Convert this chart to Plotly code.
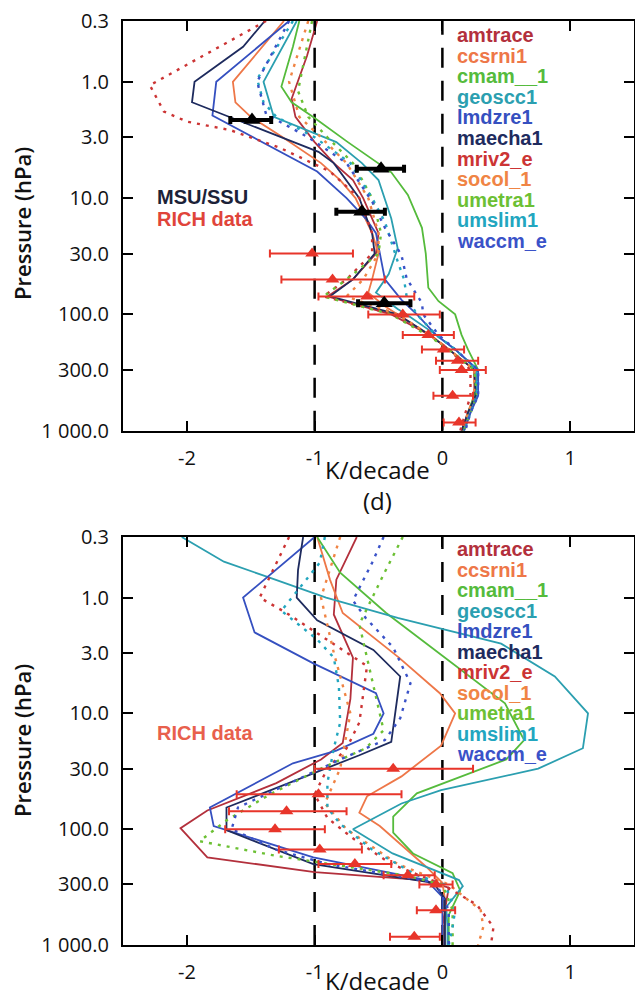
import numpy as np
import plotly.graph_objects as go

# ---------------- model names / styles ----------------
models = ["amtrace", "ccsrni1", "cmam__1", "geoscc1", "lmdzre1", "maecha1",
          "mriv2_e", "socol_1", "umetra1", "umslim1", "waccm_e"]
colors = ["#b3303c", "#ee7748", "#55bb3c", "#2b9fb0", "#3550c0", "#1e2b5e",
          "#cc3434", "#f08444", "#6cc034", "#22a6bf", "#3a52c8"]
dotted = [False, False, False, False, False, False, True, True, True, True, True]

# ---------------- upper panel (trend profiles, K/decade vs hPa) ----------------
a_amtrace_p = [0.3, 0.6, 1.4, 2, 3.3, 5, 7, 10, 20, 30, 50, 70, 100, 150, 200, 300, 500, 700, 1000]
a_amtrace_t = [-0.98, -1.06, -1.18, -1.15, -1.0, -0.85, -0.7, -0.62, -0.5, -0.52, -0.7, -0.9, -0.4, -0.1, 0.05, 0.25, 0.25, 0.2, 0.15]
a_ccsrni1_p = [0.3, 1.0, 1.5, 2, 3, 5, 7, 10, 20, 30, 50, 65, 85, 100, 150, 200, 300, 500, 700, 1000]
a_ccsrni1_t = [-1.24, -1.64, -1.62, -1.5, -1.25, -0.95, -0.8, -0.68, -0.55, -0.5, -0.55, -0.58, -0.45, -0.35, -0.1, 0.05, 0.25, 0.26, 0.2, 0.16]
a_cmam__1_p = [0.3, 0.5, 1.1, 1.5, 2.05, 3.3, 6, 9.4, 18, 30, 59, 77, 100, 150, 200, 300, 500, 700, 1000]
a_cmam__1_t = [-1.12, -1.17, -1.26, -1.18, -1.0, -0.74, -0.40, -0.27, -0.16, -0.13, -0.11, -0.03, 0.10, 0.15, 0.2, 0.28, 0.25, 0.2, 0.16]
a_geoscc1_p = [0.3, 1.0, 2.0, 3.3, 5, 7, 15, 27, 45, 65, 90, 100, 150, 200, 300, 500, 700, 1000]
a_geoscc1_t = [-1.14, -1.40, -1.32, -0.83, -0.63, -0.50, -0.40, -0.35, -0.42, -0.52, -0.35, -0.28, -0.05, 0.1, 0.27, 0.27, 0.22, 0.17]
a_lmdzre1_p = [0.3, 1.0, 1.95, 3, 5.9, 10, 15, 20, 30, 50, 75, 100, 150, 200, 300, 500, 700, 1000]
a_lmdzre1_t = [-1.2, -1.77, -1.80, -1.48, -0.98, -0.75, -0.6, -0.52, -0.49, -0.45, -0.32, -0.2, -0.05, 0.1, 0.28, 0.28, 0.22, 0.17]
a_maecha1_p = [0.3, 0.5, 1.0, 1.5, 4.0, 5, 10, 20, 30, 50, 70, 100, 150, 200, 300, 500, 700, 1000]
a_maecha1_t = [-1.39, -1.56, -1.94, -1.96, -0.97, -0.85, -0.65, -0.55, -0.53, -0.7, -0.88, -0.35, -0.1, 0.05, 0.25, 0.26, 0.2, 0.15]
a_mriv2_e_p = [0.3, 1.07, 1.8, 2.2, 2.6, 3.7, 5.9, 10, 20, 30, 50, 70, 100, 150, 200, 300, 500, 700, 1000]
a_mriv2_e_t = [-1.38, -2.29, -2.18, -2.0, -1.66, -1.27, -0.88, -0.65, -0.55, -0.55, -0.75, -0.93, -0.38, -0.1, 0.05, 0.22, 0.22, 0.18, 0.14]
a_socol_1_p = [0.3, 1.0, 2.0, 3.0, 5, 10, 20, 30, 50, 70, 100, 150, 200, 300, 500, 700, 1000]
a_socol_1_t = [-1.05, -1.2, -1.12, -0.95, -0.75, -0.58, -0.5, -0.5, -0.62, -0.75, -0.35, -0.1, 0.05, 0.25, 0.25, 0.2, 0.15]
a_umetra1_p = [0.3, 1.2, 2.0, 3, 5, 10, 20, 30, 50, 70, 100, 150, 200, 300, 500, 700, 1000]
a_umetra1_t = [-1.02, -1.13, -1.05, -0.9, -0.7, -0.55, -0.48, -0.5, -0.75, -0.93, -0.4, -0.12, 0.05, 0.25, 0.27, 0.22, 0.17]
a_umslim1_p = [0.3, 0.95, 1.5, 2, 3, 5, 10, 16, 35, 50, 70, 100, 150, 200, 300, 500, 700, 1000]
a_umslim1_t = [-1.17, -1.45, -1.40, -1.3, -1.0, -0.72, -0.55, -0.45, -0.35, -0.3, -0.28, -0.2, -0.05, 0.1, 0.27, 0.27, 0.22, 0.17]
a_waccm_e_p = [0.3, 1.0, 1.9, 3, 5, 10.7, 18, 31, 49, 80, 100, 150, 200, 300, 500, 700, 1000]
a_waccm_e_t = [-1.2, -1.45, -1.38, -1.05, -0.75, -0.55, -0.45, -0.32, -0.28, -0.16, -0.15, -0.03, 0.1, 0.28, 0.28, 0.22, 0.18]

# MSU/SSU observations (upper panel)
msu_p = [2.13, 5.6, 13.1, 80]
msu_t = [-1.49, -0.48, -0.63, -0.455]
msu_lo = [-1.66, -0.67, -0.83, -0.66]
msu_hi = [-1.34, -0.30, -0.45, -0.25]

# RICH radiosonde data (upper panel)
richa_p = [30, 50, 70, 100, 150, 200, 250, 300, 500, 850]
richa_t = [-1.02, -0.86, -0.59, -0.31, -0.11, 0.01, 0.12, 0.15, 0.08, 0.13]
richa_lo = [-1.35, -1.26, -0.97, -0.58, -0.31, -0.16, -0.05, -0.02, -0.07, 0.01]
richa_hi = [-0.70, -0.45, -0.22, -0.02, 0.09, 0.17, 0.28, 0.34, 0.24, 0.26]

# ---------------- lower panel (d) ----------------
b_amtrace_p = [0.3, 0.7, 1.4, 3.3, 7.5, 18, 25, 40, 69, 98, 175, 235, 275, 320, 500, 700, 1000]
b_amtrace_t = [-0.67, -0.83, -0.85, -0.70, -0.72, -0.78, -0.95, -1.3, -1.84, -2.05, -1.84, -1.0, -0.15, 0.05, 0.02, 0.0, 0.0]
b_ccsrni1_p = [0.3, 0.7, 1.36, 3.3, 6.7, 10, 19, 35, 52, 72, 94, 212, 290, 400, 700, 1000]
b_ccsrni1_t = [-0.98, -0.88, -0.78, -0.34, -0.02, 0.10, -0.01, -0.32, -0.59, -0.65, -0.49, -0.125, 0.0, 0.02, 0.02, 0.02]
b_cmam__1_p = [0.3, 0.61, 1.36, 3.9, 8.2, 17, 25, 49, 78, 107, 162, 240, 340, 550, 1000]
b_cmam__1_t = [-0.98, -0.80, -0.44, 0.11, 0.49, 0.64, 0.5, -0.2, -0.385, -0.385, -0.23, 0.08, 0.14, 0.05, 0.05]
b_geoscc1_p = [0.3, 0.49, 0.66, 1.0, 1.5, 2.5, 4.8, 10, 20, 30, 46, 60, 100, 162, 275, 310, 470, 700, 1000]
b_geoscc1_t = [-2.04, -1.71, -1.375, -0.91, -0.35, 0.46, 0.88, 1.14, 1.10, 0.75, -0.01, -0.32, -0.70, -0.39, 0.13, 0.16, 0.03, 0.04, 0.04]
b_lmdzre1_p = [0.3, 1.0, 2.0, 3.7, 6.7, 10, 15, 21, 27, 65, 94, 175, 275, 385, 600, 1000]
b_lmdzre1_t = [-1.0, -1.56, -1.47, -1.01, -0.52, -0.46, -0.54, -0.83, -1.17, -1.82, -1.79, -1.01, -0.125, 0.0, 0.0, 0.0]
b_maecha1_p = [0.3, 0.58, 1.0, 1.57, 2.83, 4.8, 17.6, 23, 65, 102, 200, 290, 400, 1000]
b_maecha1_t = [-1.09, -1.13, -1.14, -0.98, -0.54, -0.33, -0.40, -0.65, -1.69, -1.69, -1.01, -0.07, 0.02, 0.02]
b_mriv2_e_p = [0.3, 1.0, 1.36, 2.5, 3.9, 12, 20, 30, 50, 80, 120, 200, 300, 450, 700, 1000]
b_mriv2_e_t = [-1.2, -1.43, -1.22, -0.85, -0.59, -0.65, -0.75, -0.9, -1.0, -0.9, -0.7, -0.4, 0.0, 0.27, 0.40, 0.38]
b_socol_1_p = [0.3, 1.0, 3.0, 10, 30, 60, 100, 200, 300, 500, 700, 1000]
b_socol_1_t = [-0.8, -0.95, -0.85, -0.72, -0.8, -0.92, -0.75, -0.35, 0.05, 0.3, 0.32, 0.28]
b_umetra1_p = [0.3, 0.6, 1.7, 4.2, 14, 20, 30, 50, 84, 127, 170, 250, 300, 500, 1000]
b_umetra1_t = [-0.31, -0.45, -0.65, -0.57, -0.46, -0.6, -0.95, -1.35, -1.69, -1.90, -1.3, -0.3, 0.0, 0.08, 0.08]
b_umslim1_p = [0.3, 0.5, 1.3, 2.3, 3.3, 5.9, 12, 20, 40, 65, 90, 150, 250, 300, 500, 700, 1000]
b_umslim1_t = [-0.92, -0.96, -1.26, -0.98, -0.85, -0.81, -0.8, -0.85, -0.9, -0.9, -0.8, -0.55, -0.2, 0.02, 0.1, 0.08, 0.05]
b_waccm_e_p = [0.3, 0.5, 1.06, 1.5, 2.7, 5.5, 11, 17, 25, 40, 65, 100, 150, 200, 290, 500, 1000]
b_waccm_e_t = [-0.46, -0.55, -0.70, -0.6, -0.385, -0.25, -0.33, -0.45, -0.8, -1.2, -1.6, -1.65, -1.3, -0.9, -0.05, 0.05, 0.05]

richb_p = [30, 50, 70, 100, 150, 200, 250, 300, 500, 850]
richb_t = [-0.385, -0.97, -1.22, -1.31, -0.96, -0.685, -0.27, -0.05, -0.05, -0.22]
richb_lo = [-1.0, -1.61, -1.67, -1.70, -1.28, -0.97, -0.46, -0.18, -0.20, -0.41]
richb_hi = [0.24, -0.32, -0.75, -0.92, -0.63, -0.40, -0.06, 0.08, 0.10, -0.02]

# tick values / labels
x_ticks = [-2, -1, 0, 1]
p_ticks = [0.3, 1, 3, 10, 30, 100, 300, 1000]
p_ticktext = ["0.3", "1.0", "3.0", "10.0", "30.0", "100.0", "300.0", "1 000.0"]

panel_a = {
    "amtrace": (a_amtrace_p, a_amtrace_t), "ccsrni1": (a_ccsrni1_p, a_ccsrni1_t),
    "cmam__1": (a_cmam__1_p, a_cmam__1_t), "geoscc1": (a_geoscc1_p, a_geoscc1_t),
    "lmdzre1": (a_lmdzre1_p, a_lmdzre1_t), "maecha1": (a_maecha1_p, a_maecha1_t),
    "mriv2_e": (a_mriv2_e_p, a_mriv2_e_t), "socol_1": (a_socol_1_p, a_socol_1_t),
    "umetra1": (a_umetra1_p, a_umetra1_t), "umslim1": (a_umslim1_p, a_umslim1_t),
    "waccm_e": (a_waccm_e_p, a_waccm_e_t),
}
panel_b = {
    "amtrace": (b_amtrace_p, b_amtrace_t), "ccsrni1": (b_ccsrni1_p, b_ccsrni1_t),
    "cmam__1": (b_cmam__1_p, b_cmam__1_t), "geoscc1": (b_geoscc1_p, b_geoscc1_t),
    "lmdzre1": (b_lmdzre1_p, b_lmdzre1_t), "maecha1": (b_maecha1_p, b_maecha1_t),
    "mriv2_e": (b_mriv2_e_p, b_mriv2_e_t), "socol_1": (b_socol_1_p, b_socol_1_t),
    "umetra1": (b_umetra1_p, b_umetra1_t), "umslim1": (b_umslim1_p, b_umslim1_t),
    "waccm_e": (b_waccm_e_p, b_waccm_e_t),
}

# ---------------- figure ----------------
W, H = 635, 1000
ML, MR, MT, MB = 123, 1, 21, 55
plot_h = H - MT - MB
top_dom = [(H - MB - 430.7) / plot_h, 1.0]
bot_dom = [0.0, (H - MB - 537) / plot_h]

fig = go.Figure()
RED = "#e8352a"
TEXT_FONT = "Open Sans, Noto Sans, DejaVu Sans, sans-serif"
LEG_FONT = "Liberation Sans, Arial, sans-serif"

for panel, xa, ya in [(panel_a, "x", "y"), (panel_b, "x2", "y2")]:
    for name, col, dot in zip(models, colors, dotted):
        p, t = panel[name]
        fig.add_trace(go.Scatter(
            x=t, y=p, xaxis=xa, yaxis=ya, mode="lines", showlegend=False,
            line=dict(color=col, width=2.4 if dot else 1.8,
                      dash="3px,6px" if dot else "solid"),
            hoverinfo="skip"))


def obs_trace(p, t, lo, hi, color, msize, thick, xa, ya):
    t = np.array(t)
    return go.Scatter(
        x=t, y=p, xaxis=xa, yaxis=ya, mode="markers", showlegend=False,
        marker=dict(symbol="triangle-up", size=msize, color=color),
        error_x=dict(type="data", symmetric=False, array=np.array(hi) - t,
                     arrayminus=t - np.array(lo), color=color,
                     thickness=thick, width=4))


fig.add_trace(obs_trace(richa_p, richa_t, richa_lo, richa_hi, RED, 12, 2, "x", "y"))
fig.add_trace(obs_trace(msu_p, msu_t, msu_lo, msu_hi, "#000000", 15, 4, "x", "y"))
fig.add_trace(obs_trace(richb_p, richb_t, richb_lo, richb_hi, RED, 12, 2, "x2", "y2"))

xax = dict(range=[-2.5, 1.5], tickvals=x_ticks, ticktext=[str(v) for v in x_ticks],
           ticks="inside", ticklen=10, tickwidth=2, tickcolor="black",
           showline=True, linecolor="black", linewidth=2, mirror="ticks",
           showgrid=False, zeroline=False, automargin=False,
           tickfont=dict(family=TEXT_FONT, size=20, color="#111"),
           ticklabelstandoff=8)
yax = dict(type="log", range=[np.log10(1000), np.log10(0.3)],
           tickvals=p_ticks, ticktext=p_ticktext,
           ticks="inside", ticklen=10, tickwidth=2, tickcolor="black",
           showline=True, linecolor="black", linewidth=2, mirror="ticks",
           showgrid=False, zeroline=False, automargin=False,
           tickfont=dict(family=TEXT_FONT, size=20, color="#111"),
           ticklabelstandoff=8)

fig.update_layout(
    width=W, height=H, margin=dict(l=ML, r=MR, t=MT, b=MB, autoexpand=False),
    paper_bgcolor="white", plot_bgcolor="white",
    xaxis=dict(xax, anchor="y"),
    yaxis=dict(yax, domain=top_dom, anchor="x"),
    xaxis2=dict(xax, anchor="y2"),
    yaxis2=dict(yax, domain=bot_dom, anchor="x2"),
)

# dashed reference lines at -1 and 0
shapes = []
for xr, yr in [("x", "y domain"), ("x2", "y2 domain")]:
    for xv in [-1, 0]:
        shapes.append(dict(type="line", xref=xr, yref=yr, x0=xv, x1=xv, y0=0, y1=1,
                           line=dict(color="black", width=2.5, dash="20px,13px"),
                           layer="below"))
fig.update_layout(shapes=shapes)

ann = []
# legend-like model names
for i, (name, col) in enumerate(zip(models, colors)):
    py_top = 35 + 20.6 * i
    py_bot = 549 + 20.5 * i
    ann.append(dict(text=name, xref="x", yref="y domain", x=0.1,
                    y=(430.7 - py_top) / 409.7, xanchor="left", yanchor="middle",
                    showarrow=False, font=dict(family=LEG_FONT, size=20, color=col, weight="bold")))
    ann.append(dict(text=name, xref="x2", yref="y2 domain", x=0.1,
                    y=(945 - py_bot) / 408, xanchor="left", yanchor="middle",
                    showarrow=False, font=dict(family=LEG_FONT, size=20, color=col, weight="bold")))


def paper_xy(px, py):
    return (px - ML) / (W - ML - MR), (H - MB - py) / plot_h


for txt, px, py, col in [("MSU/SSU", 155, 197, "#1c2238"), ("RICH data", 155, 219, "#e0443a"),
                         ("RICH data", 155, 733, "#e8604c")]:
    x, y = paper_xy(px, py)
    ann.append(dict(text=txt, xref="paper", yref="paper", x=x, y=y, xanchor="left",
                    yanchor="middle", showarrow=False,
                    font=dict(family=LEG_FONT, size=20, color=col, weight="bold")))

for txt, py in [("K/decade", 470), ("(d)", 501), ("K/decade", 980)]:
    x, y = paper_xy(377, py)
    ann.append(dict(text=txt, xref="paper", yref="paper", x=x, y=y, xanchor="center",
                    yanchor="middle", showarrow=False,
                    font=dict(family=TEXT_FONT, size=24, color="#111")))

for py in [224, 741]:
    x, y = paper_xy(22, py)
    ann.append(dict(text="Pressure (hPa)", xref="paper", yref="paper", x=x, y=y,
                    xanchor="center", yanchor="middle", textangle=-90, showarrow=False,
                    font=dict(family=TEXT_FONT, size=22, color="#111", weight=600)))

fig.update_layout(annotations=ann)
fig.write_html("out.html", config={"displayModeBar": False},
               post_script="document.body.style.margin='0px';document.body.style.padding='0px';")
